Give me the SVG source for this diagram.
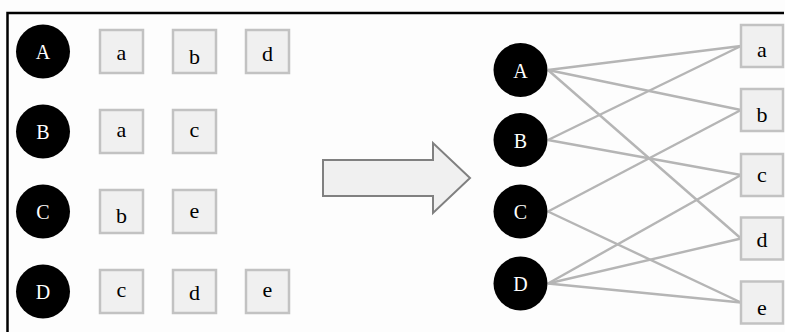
<svg xmlns="http://www.w3.org/2000/svg" width="785" height="332" viewBox="0 0 785 332">
<style>
.c{fill:#000}
.ct{fill:#fff;font-family:"Liberation Serif","Times New Roman",serif;font-size:20px;text-anchor:middle}
.b{fill:#f0f0f0;stroke:#c2c2c2;stroke-width:2.5}
.bt{fill:#000;font-family:"Liberation Serif","Times New Roman",serif;font-size:22px;text-anchor:middle}
.e{stroke:#b5b5b5;stroke-width:2.4;fill:none}
</style>
<rect x="0" y="0" width="785" height="332" fill="#fdfdfd"/>
<g id="frame" stroke="#000" stroke-width="2.5" fill="none">
<path d="M7.5,332 V13 H784"/>
</g>
<g id="left-A">
<circle class="c" cx="43" cy="51.5" r="27"/><text class="ct" x="43" y="59">A</text>
<rect class="b" x="100" y="30" width="43" height="43"/><text class="bt" x="121.5" y="59.5">a</text>
<rect class="b" x="173" y="30" width="43" height="43"/><text class="bt" x="194.5" y="63.5">b</text>
<rect class="b" x="246" y="30" width="43" height="43"/><text class="bt" x="267.5" y="60.5">d</text>
</g>
<g id="left-B">
<circle class="c" cx="43" cy="131.5" r="27"/><text class="ct" x="43" y="139">B</text>
<rect class="b" x="100" y="110" width="43" height="43"/><text class="bt" x="121.5" y="137">a</text>
<rect class="b" x="173" y="110" width="43" height="43"/><text class="bt" x="194.5" y="137">c</text>
</g>
<g id="left-C">
<circle class="c" cx="43" cy="211.5" r="27"/><text class="ct" x="43" y="219">C</text>
<rect class="b" x="100" y="190" width="43" height="43"/><text class="bt" x="121.5" y="223">b</text>
<rect class="b" x="173" y="190" width="43" height="43"/><text class="bt" x="194.5" y="218">e</text>
</g>
<g id="left-D">
<circle class="c" cx="43" cy="291.5" r="27"/><text class="ct" x="43" y="299">D</text>
<rect class="b" x="100" y="270" width="43" height="43"/><text class="bt" x="121.5" y="297">c</text>
<rect class="b" x="173" y="270" width="43" height="43"/><text class="bt" x="194.5" y="300">d</text>
<rect class="b" x="246" y="270" width="43" height="43"/><text class="bt" x="267.5" y="297">e</text>
</g>
<g id="arrow">
<polygon points="323,160 433,160 433,143 470,178 433,213 433,196 323,196" fill="#f0f0f0" stroke="#808080" stroke-width="2"/>
</g>
<g id="connectors">
<line class="e" x1="548" y1="70" x2="741" y2="46"/>
<line class="e" x1="548" y1="70" x2="741" y2="110"/>
<line class="e" x1="548" y1="70" x2="741" y2="238.5"/>
<line class="e" x1="548" y1="140" x2="741" y2="46"/>
<line class="e" x1="548" y1="140" x2="741" y2="175"/>
<line class="e" x1="548" y1="211.5" x2="741" y2="110"/>
<line class="e" x1="548" y1="211.5" x2="741" y2="302.5"/>
<line class="e" x1="548" y1="283.5" x2="741" y2="175"/>
<line class="e" x1="548" y1="283.5" x2="741" y2="238.5"/>
<line class="e" x1="548" y1="283.5" x2="741" y2="302.5"/>
</g>
<g id="right-A"><circle class="c" cx="520.5" cy="70" r="27"/><text class="ct" x="520.5" y="77.5">A</text></g>
<g id="right-B"><circle class="c" cx="520.5" cy="140" r="27"/><text class="ct" x="520.5" y="147.5">B</text></g>
<g id="right-C"><circle class="c" cx="520.5" cy="211.5" r="27"/><text class="ct" x="520.5" y="219">C</text></g>
<g id="right-D"><circle class="c" cx="520.5" cy="283.5" r="27"/><text class="ct" x="520.5" y="291">D</text></g>
<g id="right-a"><rect class="b" x="741" y="25" width="42" height="42"/><text class="bt" x="762" y="57">a</text></g>
<g id="right-b"><rect class="b" x="741" y="89" width="42" height="42"/><text class="bt" x="762" y="122">b</text></g>
<g id="right-c"><rect class="b" x="741" y="154" width="42" height="42"/><text class="bt" x="762" y="182">c</text></g>
<g id="right-d"><rect class="b" x="741" y="217.5" width="42" height="42"/><text class="bt" x="762" y="247">d</text></g>
<g id="right-e"><rect class="b" x="741" y="281.5" width="42" height="42"/><text class="bt" x="762" y="315">e</text></g>
</svg>
